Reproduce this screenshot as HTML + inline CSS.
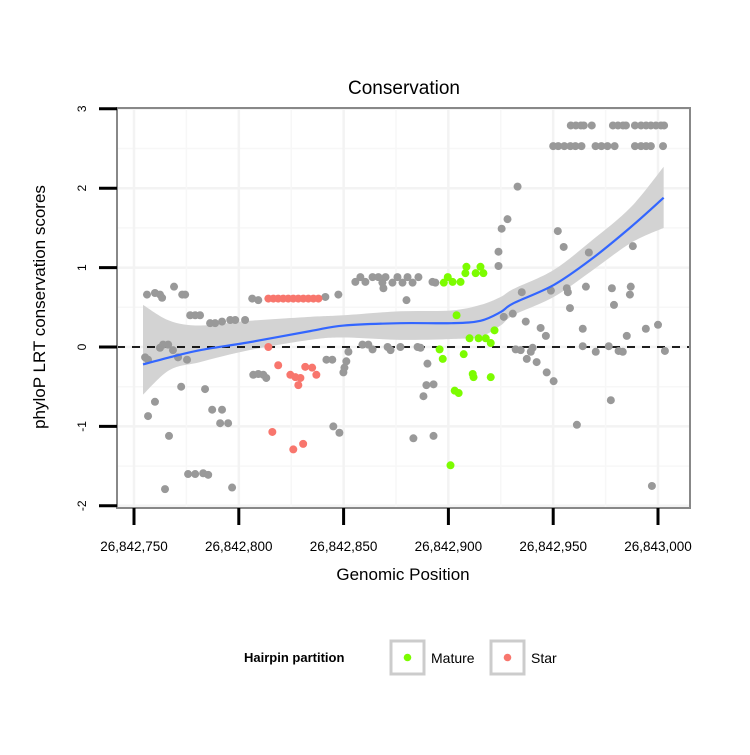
<!DOCTYPE html>
<html><head><meta charset="utf-8"><style>
body{margin:0;background:#fff;font-family:"Liberation Sans",sans-serif}
svg text{font-family:"Liberation Sans",sans-serif}
</style></head><body>
<svg id="chart" width="750" height="750" xmlns="http://www.w3.org/2000/svg">
<rect width="750" height="750" fill="#fff"/>
<text x="404" y="94" text-anchor="middle" font-size="19">Conservation</text>
<g id="grid"></g><g id="band"></g><g id="pts"></g><g id="axes"></g>
<text x="403" y="580" text-anchor="middle" font-size="17">Genomic Position</text>
<text transform="translate(45,307) rotate(-90)" text-anchor="middle" font-size="17">phyloP LRT conservation scores</text>
<g>
<text x="244" y="662" font-size="13" font-weight="bold">Hairpin partition</text>
<rect x="391" y="641" width="33" height="33" fill="#fff" stroke="#ccc" stroke-width="3"/>
<circle cx="407.5" cy="657.5" r="3.8" fill="#7cfc00"/>
<text x="431" y="663" font-size="14">Mature</text>
<rect x="491" y="641" width="33" height="33" fill="#fff" stroke="#ccc" stroke-width="3"/>
<circle cx="507.5" cy="657.5" r="3.8" fill="#f8766d"/>
<text x="531" y="663" font-size="14">Star</text>
</g>
</svg>
<script>
const base = 26842750;
const xTicks = [26842750, 26842800, 26842850, 26842900, 26842950, 26843000];
const xTickLabels = ["26,842,750","26,842,800","26,842,850","26,842,900","26,842,950","26,843,000"];
const yTicks = [-2,-1,0,1,2,3];
const yTickLabels = ["-2","-1","0","1","2","3"];
const grayPos = [5.3,6.7,6.2,10,12.4,13.4,19.1,23,24.4,26.8,29.2,31.5,36.3,38.7,42,45.9,48.3,53,12.4,13.9,16.3,18.6,21,25.3,22.5,33.9,10,6.7,37.3,42,41.1,44.9,16.7,25.8,29.2,33,35.4,14.8,46.8,56.4,59.3,56.9,59.3,61.7,63.1,91.3,97.5,105.6,108,110.4,113.8,116.6,118.5,120,123.3,125.7,128.1,130.5,132.9,135.7,142.4,143.8,119,130,109,111.8,113.8,121,122.4,127.1,135.3,136.7,91.8,94.6,102.3,101.3,100.4,99.9,140,139.5,142.9,138.1,95.1,98,133.3,142.9,173.9,183,178.2,175.4,202.2,205,217,238,173.9,185,198.9,206.5,207,215.6,228,237,236.6,229,208,176.4,180.7,186.9,194,196.5,190.2,182.1,184.5,189.3,187.4,192.1,196.9,200.2,214.1,220.3,226.5,231.2,233.2,235.1,244.2,250,253.3,227.5,211.3,247.1,214.1,208.4,210.8,213.2,214.6,218.4,228.5,230.9,233.3,234.7,239,241.9,244.3,246.6,249,251.4,252.9,200,202.4,205.3,208.2,210.6,213.5,220.2,223,225.9,229.3,239,241.9,244.3,246.6,252.4];
const grayScore = [-0.13,-0.16,0.66,0.68,0.66,0.62,0.76,0.66,0.66,0.40,0.40,0.40,0.30,0.30,0.32,0.34,0.34,0.34,-0.01,0.03,0.03,-0.04,-0.13,-0.16,-0.50,-0.53,-0.69,-0.87,-0.79,-0.79,-0.96,-0.96,-1.12,-1.60,-1.60,-1.59,-1.61,-1.79,-1.77,0.61,0.59,-0.35,-0.34,-0.35,-0.39,0.63,0.66,0.82,0.88,0.82,0.88,0.88,0.81,0.88,0.81,0.88,0.81,0.88,0.81,0.88,0.82,0.81,0.74,0.59,0.03,0.03,-0.03,0,-0.04,0,0,-0.01,-0.16,-0.16,-0.06,-0.18,-0.26,-0.32,-0.21,-0.48,-0.47,-0.62,-1.0,-1.08,-1.15,-1.12,1.2,2.02,1.61,1.49,1.46,1.26,1.19,1.27,1.02,0.69,0.71,0.74,0.69,0.76,0.74,0.76,0.66,0.53,0.49,0.38,0.42,0.32,0.24,0.14,-0.01,-0.03,-0.04,-0.06,-0.15,-0.19,-0.32,-0.43,0.01,-0.06,0.01,-0.05,-0.06,0.14,0.23,0.28,-0.05,-0.67,-0.98,-1.75,0.23,2.79,2.79,2.79,2.79,2.79,2.79,2.79,2.79,2.79,2.79,2.79,2.79,2.79,2.79,2.79,2.79,2.53,2.53,2.53,2.53,2.53,2.53,2.53,2.53,2.53,2.53,2.53,2.53,2.53,2.53,2.53];
const starPos = [64.1,66.5,68.8,71.2,73.6,76,78.4,80.8,83.2,85.6,88,64.1,68.8,74.6,77,78.4,79.4,81.7,85,87,66,76,80.7];
const starScore = [0.61,0.61,0.61,0.61,0.61,0.61,0.61,0.61,0.61,0.61,0.61,0,-0.23,-0.35,-0.38,-0.48,-0.39,-0.25,-0.26,-0.35,-1.07,-1.29,-1.22];
const maturePos = [149.7,147.8,152,155.8,158.6,158.1,165.3,163,166.7,153.9,160.1,164.4,167.8,170.2,172,145.8,147.3,157.3,161.6,162,170.2,153,154.9,151];
const matureScore = [0.88,0.81,0.82,0.82,1.01,0.93,1.01,0.93,0.93,0.40,0.11,0.11,0.11,0.05,0.21,-0.03,-0.15,-0.09,-0.34,-0.38,-0.38,-0.55,-0.58,-1.49];
const fitPos = [4.3,17,31.5,55,84,100,127,151.5,165.3,174.9,181,200.2,217.9,237,252.7];
const fitVal = [-0.22,-0.13,-0.04,0.06,0.2,0.27,0.3,0.30,0.33,0.44,0.55,0.78,1.10,1.51,1.88];
const fitLo = [-0.6,-0.29,-0.19,-0.04,0.09,0.12,0.09,0.10,0.13,0.27,0.40,0.63,0.95,1.31,1.50];
const fitHi = [0.53,0.33,0.27,0.33,0.38,0.40,0.45,0.46,0.53,0.63,0.73,0.97,1.33,1.76,2.27];

const X0=117,X1=690,Y0=108,Y1=508;
const sx = p => 134 + (p - 26842750) * (658-134)/250;
const sy = v => 347 - v * 79.4;
const NS="http://www.w3.org/2000/svg";
function mk(tag, parent, attrs){const e=document.createElementNS(NS,tag);for(const k in attrs)e.setAttribute(k,attrs[k]);parent.appendChild(e);return e;}
function spline(P, start){
  let d=start?'M'+P[0][0]+','+P[0][1]:'L'+P[0][0]+','+P[0][1];
  for(let i=0;i<P.length-1;i++){
    const p0=P[Math.max(i-1,0)],p1=P[i],p2=P[i+1],p3=P[Math.min(i+2,P.length-1)];
    const c1=[p1[0]+(p2[0]-p0[0])/6,p1[1]+(p2[1]-p0[1])/6];
    const c2=[p2[0]-(p3[0]-p1[0])/6,p2[1]-(p3[1]-p1[1])/6];
    d+='C'+c1[0]+','+c1[1]+' '+c2[0]+','+c2[1]+' '+p2[0]+','+p2[1];
  }
  return d;
}
const grid=document.getElementById('grid');
mk('rect',grid,{x:X0,y:Y0,width:X1-X0,height:Y1-Y0,fill:'#fff'});
yTicks.forEach((t,i)=>{
  const g=mk('line',grid,{x1:X0,x2:X1,y1:sy(t),y2:sy(t),stroke:'#f3f3f3','stroke-width':2.5});
  
  
  if(i<yTicks.length-1) mk('line',grid,{x1:X0,x2:X1,y1:sy(t+0.5),y2:sy(t+0.5),stroke:'#f7f7f7','stroke-width':1.5});
});
xTicks.forEach((t,i)=>{
  const g=mk('line',grid,{x1:sx(t),x2:sx(t),y1:Y0,y2:Y1,stroke:'#f3f3f3','stroke-width':2.5});
  
  
  if(i<xTicks.length-1) mk('line',grid,{x1:sx(t+25),x2:sx(t+25),y1:Y0,y2:Y1,stroke:'#f7f7f7','stroke-width':1.5});
});
const band=document.getElementById('band');
const hiP=fitPos.map((p,i)=>[sx(base+p),sy(fitHi[i])]);
const loP=fitPos.map((p,i)=>[sx(base+p),sy(fitLo[i])]).reverse();
const bp=mk('path',band,{d:spline(hiP,true)+spline(loP,false)+'Z',fill:'#d3d3d3'});


const zl=mk('line',band,{x1:X0,x2:X1,y1:sy(0),y2:sy(0),stroke:'#000','stroke-width':1.8,'stroke-dasharray':'8,7'});


const pts=document.getElementById('pts');
grayPos.forEach((p,i)=>{const c=mk('circle',pts,{cx:sx(base+p),cy:sy(grayScore[i]),r:4,fill:'#999'});

});
starPos.forEach((p,i)=>{const c=mk('circle',pts,{cx:sx(base+p),cy:sy(starScore[i]),r:4,fill:'#f8766d'});

});
maturePos.forEach((p,i)=>{const c=mk('circle',pts,{cx:sx(base+p),cy:sy(matureScore[i]),r:4,fill:'#7cfc00'});

});
const lineP=fitPos.map((p,i)=>[sx(base+p),sy(fitVal[i])]);
const fl=mk('path',pts,{d:spline(lineP,true),fill:'none',stroke:'#3366ff','stroke-width':2.2});


const ax=document.getElementById('axes');
mk('rect',ax,{x:X0,y:Y0,width:X1-X0,height:Y1-Y0,fill:'none',stroke:'#888','stroke-width':2});
yTicks.forEach((t,i)=>{
  mk('line',ax,{x1:99,x2:X0,y1:sy(t),y2:sy(t),stroke:'#000','stroke-width':3});
  const tx=mk('text',ax,{transform:`translate(86,${sy(t)}) rotate(-90)`,'text-anchor':'middle','font-size':12});
  tx.textContent=yTickLabels[i];
  
  
});
xTicks.forEach((t,i)=>{
  mk('line',ax,{x1:sx(t),x2:sx(t),y1:Y1,y2:525,stroke:'#000','stroke-width':3});
  const tx=mk('text',ax,{x:sx(t),y:551,'text-anchor':'middle','font-size':13.5});
  tx.textContent=xTickLabels[i];
  
  
});
</script>
</body></html>
